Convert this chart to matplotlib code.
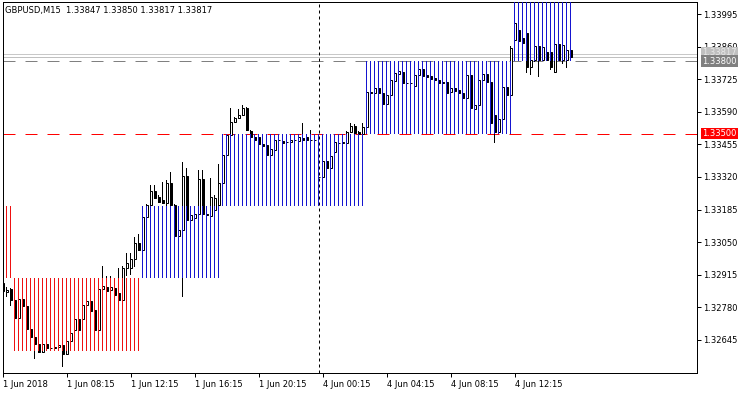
import matplotlib
matplotlib.use('Agg')
import matplotlib.pyplot as plt
import matplotlib.transforms as mtransforms
import numpy as np

plt.rcParams['font.family'] = ['DejaVu Sans']

title_text = "GBPUSD,M15  1.33847 1.33850 1.33817 1.33817"

opens = [1.32881, 1.32844, 1.32856, 1.32811, 1.32736, 1.32815, 1.32786, 1.32691, 1.32657, 1.32628,
         1.32595, 1.32628, 1.32612, 1.32612, 1.32616, 1.32624, 1.32587, 1.32641, 1.32686, 1.32732,
         1.32732, 1.32790, 1.32807, 1.32769, 1.32686, 1.32856, 1.32865, 1.32852, 1.32860, 1.32840,
         1.32811, 1.32943, 1.32943, 1.32980, 1.33047, 1.33018, 1.33154, 1.33204, 1.33262, 1.33237,
         1.33225, 1.33212, 1.33295, 1.33204, 1.33076, 1.33101, 1.33324, 1.33142, 1.33150, 1.33167,
         1.33312, 1.33167, 1.33159, 1.33183, 1.33204, 1.33295, 1.33411, 1.33494, 1.33548, 1.33564,
         1.33577, 1.33606, 1.33511, 1.33486, 1.33486, 1.33457, 1.33453, 1.33411, 1.33432, 1.33473,
         1.33469, 1.33465, 1.33465, 1.33473, 1.33469, 1.33482, 1.33486, 1.33473, 1.33473, 1.33320,
         1.33320, 1.33386, 1.33357, 1.33424, 1.33461, 1.33461, 1.33461, 1.33506, 1.33531, 1.33506,
         1.33498, 1.33527, 1.33672, 1.33668, 1.33689, 1.33668, 1.33622, 1.33660, 1.33718, 1.33747,
         1.33755, 1.33709, 1.33708, 1.33697, 1.33742, 1.33767, 1.33742, 1.33738, 1.33730, 1.33722,
         1.33713, 1.33713, 1.33672, 1.33689, 1.33680, 1.33668, 1.33647, 1.33742, 1.33602, 1.33618,
         1.33722, 1.33747, 1.33713, 1.33577, 1.33506, 1.33560, 1.33693, 1.33660, 1.33887, 1.33929,
         1.33896, 1.33916, 1.33776, 1.33805, 1.33863, 1.33805, 1.33838, 1.33838, 1.33755, 1.33871,
         1.33805, 1.33805, 1.33847]

highs = [1.32889, 1.32865, 1.32860, 1.32819, 1.32819, 1.32819, 1.32790, 1.32695, 1.32662, 1.32633,
         1.32633, 1.32633, 1.32616, 1.32618, 1.32628, 1.32628, 1.32645, 1.32678, 1.32736, 1.32736,
         1.32794, 1.32811, 1.32811, 1.32773, 1.32860, 1.32951, 1.32910, 1.32910, 1.32865, 1.32943,
         1.32951, 1.33005, 1.33005, 1.33072, 1.33084, 1.33159, 1.33208, 1.33287, 1.33287, 1.33245,
         1.33299, 1.33308, 1.33341, 1.33208, 1.33105, 1.33382, 1.33357, 1.33171, 1.33175, 1.33349,
         1.33349, 1.33171, 1.33316, 1.33245, 1.33374, 1.33415, 1.33498, 1.33606, 1.33568, 1.33602,
         1.33618, 1.33610, 1.33515, 1.33490, 1.33490, 1.33461, 1.33457, 1.33440, 1.33477, 1.33477,
         1.33473, 1.33469, 1.33477, 1.33477, 1.33490, 1.33544, 1.33490, 1.33515, 1.33477, 1.33324,
         1.33390, 1.33407, 1.33411, 1.33469, 1.33465, 1.33465, 1.33511, 1.33544, 1.33540, 1.33511,
         1.33544, 1.33676, 1.33676, 1.33693, 1.33693, 1.33672, 1.33664, 1.33726, 1.33755, 1.33763,
         1.33759, 1.33713, 1.33713, 1.33747, 1.33771, 1.33771, 1.33747, 1.33742, 1.33734, 1.33726,
         1.33718, 1.33718, 1.33693, 1.33693, 1.33684, 1.33672, 1.33747, 1.33747, 1.33622, 1.33726,
         1.33751, 1.33751, 1.33718, 1.33589, 1.33564, 1.33697, 1.33697, 1.33863, 1.33970, 1.33937,
         1.33904, 1.33925, 1.33809, 1.33871, 1.33867, 1.33863, 1.33842, 1.33842, 1.33876, 1.33875,
         1.33871, 1.33850, 1.33850]

lows = [1.32836, 1.32823, 1.32786, 1.32732, 1.32728, 1.32782, 1.32686, 1.32653, 1.32566, 1.32591,
        1.32591, 1.32608, 1.32608, 1.32609, 1.32612, 1.32533, 1.32583, 1.32637, 1.32670, 1.32682,
        1.32728, 1.32786, 1.32761, 1.32682, 1.32682, 1.32848, 1.32844, 1.32848, 1.32827, 1.32807,
        1.32807, 1.32910, 1.32914, 1.32947, 1.33014, 1.33009, 1.33150, 1.33200, 1.33229, 1.33212,
        1.33208, 1.33200, 1.33200, 1.33072, 1.33067, 1.32823, 1.33138, 1.33134, 1.33146, 1.33163,
        1.33163, 1.33146, 1.33154, 1.33179, 1.33196, 1.33291, 1.33407, 1.33490, 1.33544, 1.33560,
        1.33573, 1.33511, 1.33482, 1.33469, 1.33453, 1.33444, 1.33407, 1.33407, 1.33428, 1.33469,
        1.33457, 1.33461, 1.33461, 1.33469, 1.33465, 1.33469, 1.33469, 1.33469, 1.33469, 1.33316,
        1.33316, 1.33353, 1.33353, 1.33419, 1.33457, 1.33457, 1.33457, 1.33502, 1.33498, 1.33494,
        1.33494, 1.33523, 1.33664, 1.33664, 1.33664, 1.33618, 1.33618, 1.33655, 1.33713, 1.33742,
        1.33705, 1.33705, 1.33705, 1.33693, 1.33738, 1.33734, 1.33730, 1.33722, 1.33718, 1.33705,
        1.33705, 1.33664, 1.33668, 1.33672, 1.33664, 1.33643, 1.33643, 1.33602, 1.33597, 1.33614,
        1.33718, 1.33709, 1.33540, 1.33461, 1.33502, 1.33556, 1.33655, 1.33655, 1.33854, 1.33879,
        1.33871, 1.33751, 1.33742, 1.33796, 1.33734, 1.33800, 1.33800, 1.33763, 1.33751, 1.33800,
        1.33788, 1.33771, 1.33817]

closes = [1.32848, 1.32852, 1.32811, 1.32736, 1.32815, 1.32786, 1.32691, 1.32657, 1.32628, 1.32595,
          1.32628, 1.32612, 1.32611, 1.32615, 1.32624, 1.32587, 1.32641, 1.32674, 1.32732, 1.32686,
          1.32790, 1.32807, 1.32765, 1.32686, 1.32856, 1.32869, 1.32848, 1.32865, 1.32831, 1.32811,
          1.32943, 1.32964, 1.32980, 1.33047, 1.33018, 1.33154, 1.33204, 1.33262, 1.33233, 1.33217,
          1.33212, 1.33295, 1.33204, 1.33076, 1.33101, 1.33324, 1.33142, 1.33163, 1.33167, 1.33312,
          1.33167, 1.33163, 1.33237, 1.33233, 1.33295, 1.33411, 1.33494, 1.33548, 1.33564, 1.33577,
          1.33606, 1.33515, 1.33486, 1.33473, 1.33457, 1.33448, 1.33411, 1.33436, 1.33473, 1.33472,
          1.33461, 1.33464, 1.33473, 1.33472, 1.33486, 1.33473, 1.33473, 1.33472, 1.33474, 1.33319,
          1.33386, 1.33357, 1.33407, 1.33465, 1.33460, 1.33464, 1.33506, 1.33531, 1.33502, 1.33498,
          1.33527, 1.33672, 1.33668, 1.33689, 1.33668, 1.33622, 1.33660, 1.33722, 1.33751, 1.33759,
          1.33709, 1.33708, 1.33709, 1.33742, 1.33767, 1.33738, 1.33734, 1.33726, 1.33722, 1.33709,
          1.33709, 1.33668, 1.33689, 1.33676, 1.33668, 1.33647, 1.33742, 1.33606, 1.33618, 1.33722,
          1.33747, 1.33713, 1.33544, 1.33506, 1.33560, 1.33693, 1.33660, 1.33854, 1.33958, 1.33883,
          1.33875, 1.33776, 1.33805, 1.33863, 1.33805, 1.33858, 1.33805, 1.33776, 1.33872, 1.33805,
          1.33867, 1.33847, 1.33817]

# level bands drawn as vertical lines per bar
zone_start = [1, 3, 35, 55, 91, 128]
zone_end = [2, 34, 54, 90, 127, 142]
zone_low = [1.32900, 1.32600, 1.32900, 1.33200, 1.33500, 1.33800]
zone_high = [1.33200, 1.32900, 1.33200, 1.33500, 1.33800, 1.34100]
zone_color = ['#ee1111', '#ee1111', '#1515d0', '#1515d0', '#1515d0', '#1515d0']

level_red = 1.33500
level_grey = 1.33800
bid_price = 1.33817
ask_price = 1.33829
separator_bar = 79

ytick_values = [1.33995, 1.33860, 1.33725, 1.33590, 1.33455, 1.33320, 1.33185,
                1.33050, 1.32915, 1.32780, 1.32645]
xtick_bars = [0, 16, 32, 48, 64, 80, 96, 112, 128]
xtick_labels = ['1 Jun 2018', '1 Jun 08:15', '1 Jun 12:15', '1 Jun 16:15', '1 Jun 20:15',
                '4 Jun 00:15', '4 Jun 04:15', '4 Jun 08:15', '4 Jun 12:15']

W, H = 750, 394
fig = plt.figure(figsize=(W / 100, H / 100), dpi=100)
ax_left, ax_top, ax_right, ax_bottom = 3, 2, 697, 373
ax = fig.add_axes([ax_left / W, (H - ax_bottom) / H, (ax_right - ax_left) / W, (ax_bottom - ax_top) / H])

px = 0.72  # one pixel in points
ppu = 24148.0  # pixels per price unit
y_top = 1.33995 + 12 / ppu
y_bot = 1.33995 - 359 / ppu
xl = 0.125
ax.set_xlim(xl, xl + (ax_right - ax_left) / 4.0)
ax.set_ylim(y_bot, y_top)

n = len(opens)
x = np.arange(n)
o = np.array(opens); h = np.array(highs); l = np.array(lows); c = np.array(closes)

# horizontal lines
ax.axhline(ask_price, color='#c8c8c8', lw=px, zorder=1)
ax.axhline(bid_price, color='#c0c0c0', lw=px, zorder=1)
ax.axhline(level_red, color='#ff0000', lw=px, ls=(0, (12, 10)), zorder=1)
ax.axhline(level_grey, color='#808080', lw=px, ls=(0, (12, 10)), zorder=1)

# candles: wicks as 1-px-wide bars, bodies as outlined bars
ax.bar(x, h - l, bottom=l, width=0.25, color='black', linewidth=0, zorder=3)
bull = c >= o
bottom = np.minimum(o, c)
height = np.maximum(np.abs(c - o), 0.5 / ppu)
ax.bar(x, height, bottom=bottom, width=0.5,
       color=np.where(bull, 'white', 'black'), edgecolor='black', linewidth=px, zorder=4)

# level zones: one-pixel-wide coloured bars at every bar position
for s, e, lo, hi, col in zip(zone_start, zone_end, zone_low, zone_high, zone_color):
    xs = np.arange(s, e + 1)
    ax.bar(xs, hi - lo, bottom=lo, width=0.25, color=col, linewidth=0, zorder=5)

# period separator
ax.axvline(separator_bar, color='black', lw=px, ls=(0, (3, 3)), zorder=7)

# axes styling
for sp in ax.spines.values():
    sp.set_color('black')
    sp.set_linewidth(px)
ax.yaxis.tick_right()
ax.set_yticks(ytick_values)
ax.set_yticklabels([f'{v:.5f}' for v in ytick_values])
ax.tick_params(axis='y', direction='out', length=3, width=px, pad=1.5, labelsize=6, colors='black')
ax.set_xticks(xtick_bars)
ax.set_xticklabels(xtick_labels)
ax.tick_params(axis='x', direction='out', length=3, width=px, pad=2, labelsize=6)
for lab in ax.get_xticklabels():
    lab.set_horizontalalignment('left')

# price label boxes on the right
trans = mtransforms.blended_transform_factory(ax.transAxes, ax.transData)
lx = 1.0 + 5 / (ax_right - ax_left)
ax.text(lx, bid_price + 4 / ppu, f'{bid_price:.5f}', transform=trans, fontsize=6, color='#e8e8e8',
        va='center', ha='left', clip_on=False, zorder=8,
        bbox=dict(boxstyle='square,pad=0.15', fc='#c0c0c0', ec='none'))
ax.text(lx, level_grey, f'{level_grey:.5f}', transform=trans, fontsize=6, color='white',
        va='center', ha='left', clip_on=False, zorder=9,
        bbox=dict(boxstyle='square,pad=0.15', fc='#808080', ec='none'))
ax.text(lx, level_red, f'{level_red:.5f}', transform=trans, fontsize=6, color='white',
        va='center', ha='left', clip_on=False, zorder=9,
        bbox=dict(boxstyle='square,pad=0.15', fc='#ff0000', ec='none'))

ax.text(2 / (ax_right - ax_left), 1 - 8 / (ax_bottom - ax_top), title_text, transform=ax.transAxes,
        fontsize=6, color='black', va='center', ha='left', zorder=10)

fig.savefig('out.png', dpi=100, facecolor='white')
